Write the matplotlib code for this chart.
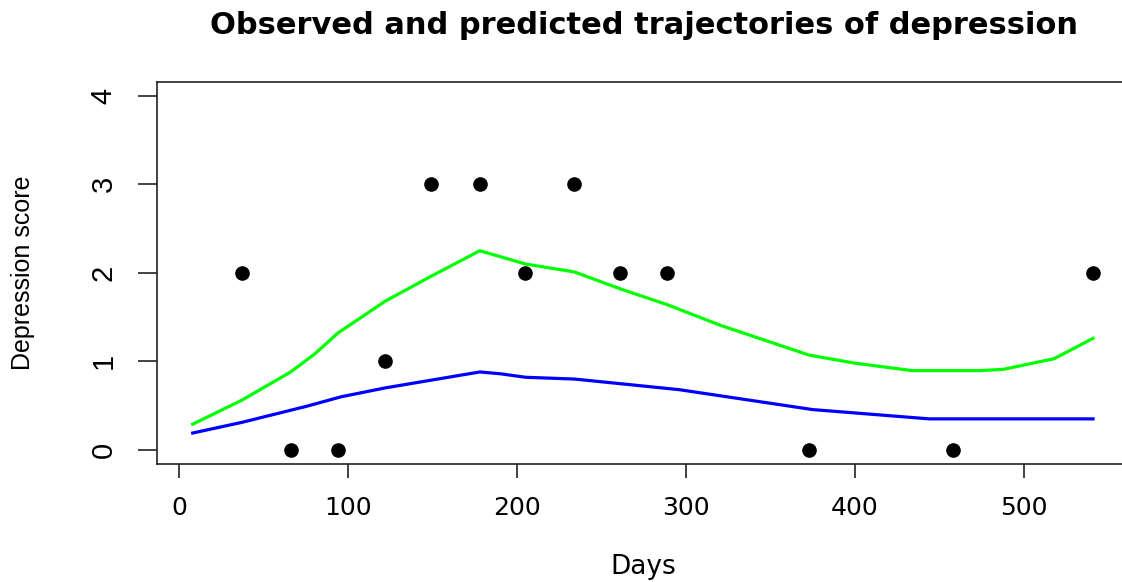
import matplotlib
matplotlib.use("Agg")
import matplotlib.pyplot as plt

# Observed data
obs_days = [37, 66, 94, 122, 149, 178, 205, 234, 261, 289, 373, 458, 541]
obs_scores = [2, 0, 0, 1, 3, 3, 2, 3, 2, 2, 0, 0, 2]

# Predicted trajectory (green)
green_days = [8, 37, 66, 80, 94, 122, 149, 178, 205, 234, 261, 289, 320, 373, 400, 434, 474, 488, 518, 541]
green_vals = [0.29, 0.56, 0.88, 1.08, 1.32, 1.68, 1.96, 2.25, 2.10, 2.01, 1.82, 1.64, 1.41, 1.07, 0.98, 0.895, 0.895, 0.91, 1.03, 1.26]

# Predicted trajectory (blue)
blue_days = [8, 37, 75, 96, 122, 150, 178, 190, 205, 234, 296, 375, 444, 541]
blue_vals = [0.19, 0.31, 0.49, 0.60, 0.70, 0.79, 0.88, 0.86, 0.82, 0.80, 0.68, 0.455, 0.35, 0.35]

x_ticks = [0, 100, 200, 300, 400, 500]
y_ticks = [0, 1, 2, 3, 4]

W, H = 1122, 582
fig = plt.figure(figsize=(W / 100, H / 100), dpi=100)
left, right, top, bottom = 156.7, 1129, 81.7, 464
ax = fig.add_axes([left / W, 1 - bottom / H, (right - left) / W, (bottom - top) / H])

ax.plot(green_days, green_vals, color="#00ff00", lw=2.3, solid_joinstyle="round")
ax.plot(blue_days, blue_vals, color="#0000ff", lw=2.3, solid_joinstyle="round")
ax.plot(obs_days, obs_scores, "o", color="black", markersize=9.5)

ax.set_xlim(-13.3, 562.3)
ax.set_ylim(-0.16, 4.16)
for s in ax.spines.values():
    s.set_linewidth(1.2)
    s.set_color("#222222")

ax.set_xticks(x_ticks)
ax.set_xticklabels([str(v) for v in x_ticks], fontfamily="DejaVu Sans", fontsize=18)
ax.set_yticks(y_ticks)
ax.set_yticklabels([str(v) for v in y_ticks], fontfamily="Liberation Sans", fontsize=21,
                   rotation=90, va="center")
ax.tick_params(axis="both", direction="out", width=1.2, color="#222222")
ax.tick_params(axis="x", length=10, pad=13)
ax.tick_params(axis="y", length=14, pad=14)

fig.text(644 / W, 1 - 25 / H, "Observed and predicted trajectories of depression",
         ha="center", va="center", fontsize=22, fontweight="bold", family="DejaVu Sans")
fig.text(643 / W, 1 - 567 / H, "Days", ha="center", va="center", fontsize=19,
         family="DejaVu Sans")
fig.text(23 / W, 1 - 273 / H, "Depression score", ha="center", va="center",
         rotation=90, fontsize=18, family="Liberation Sans")

fig.savefig("out.png", dpi=100)
